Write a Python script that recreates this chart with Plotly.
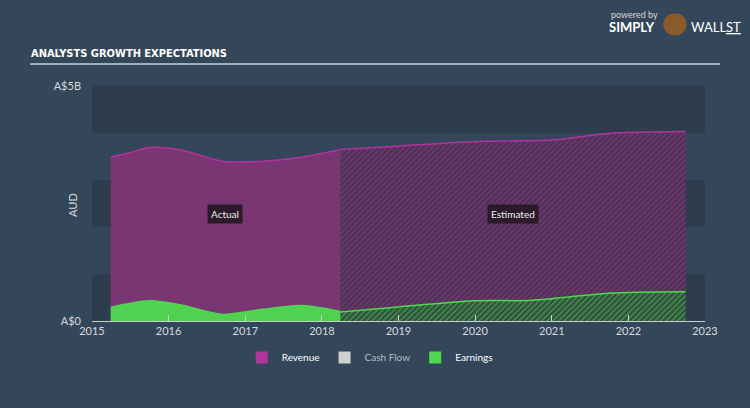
import plotly.graph_objects as go

# ---- data (A$ billions) ----
rev_act_dates = ["2015-03-31", "2015-06-30", "2015-09-30", "2016-03-01", "2016-09-12", "2017-03-25", "2017-09-30", "2018-03-31"]
rev_act_vals = [3.49, 3.58, 3.69, 3.64, 3.40, 3.40, 3.49, 3.65]
rev_est_dates = ["2018-03-31", "2018-12-31", "2019-12-31", "2020-12-31", "2021-09-30", "2022-09-30"]
rev_est_vals = [3.65, 3.72, 3.82, 3.85, 3.99, 4.03]

earn_act_dates = ["2015-03-31", "2015-09-30", "2016-03-01", "2016-09-12", "2017-03-25", "2017-09-30", "2018-03-31"]
earn_act_vals = [0.29, 0.43, 0.34, 0.14, 0.25, 0.33, 0.20]
earn_est_dates = ["2018-03-31", "2018-12-31", "2019-12-31", "2020-09-30", "2021-09-30", "2022-09-30"]
earn_est_vals = [0.19, 0.30, 0.43, 0.44, 0.59, 0.62]

legend_names = ["Revenue", "Cash Flow", "Earnings"]
year_ticks = [str(y) for y in range(2015, 2024)]
B = 1e9

BG = "#344659"
BAND = "#2e3d4d"
REV_LINE = "#b0349e"
REV_FILL = "#7a3673"
EARN = "#4fd84f"

fig = go.Figure()

fig.add_trace(go.Scatter(x=rev_act_dates, y=[v * B for v in rev_act_vals], mode="lines",
                         line=dict(color=REV_LINE, width=1.5, shape="spline", smoothing=0.8),
                         fill="tozeroy", fillcolor=REV_FILL, showlegend=False, hoverinfo="skip"))
fig.add_trace(go.Scatter(x=rev_est_dates, y=[v * B for v in rev_est_vals], mode="lines",
                         line=dict(color=REV_LINE, width=1.5, shape="spline", smoothing=0.8),
                         fill="tozeroy",
                         fillpattern=dict(shape="/", fgcolor="#923c88", bgcolor="#4a3152", size=4, solidity=0.5),
                         showlegend=False, hoverinfo="skip"))
fig.add_trace(go.Scatter(x=earn_act_dates, y=[v * B for v in earn_act_vals], mode="lines",
                         line=dict(color=EARN, width=1.5, shape="spline", smoothing=0.8),
                         fill="tozeroy", fillcolor="#50d250", showlegend=False, hoverinfo="skip"))
fig.add_trace(go.Scatter(x=earn_est_dates, y=[v * B for v in earn_est_vals], mode="lines",
                         line=dict(color=EARN, width=1.5, shape="spline", smoothing=0.8),
                         fill="tozeroy",
                         fillpattern=dict(shape="/", fgcolor="#4fc84f", bgcolor="#2f4a3e", size=4, solidity=0.5),
                         showlegend=False, hoverinfo="skip"))

leg_colors = [REV_LINE, "#d0d0d0", EARN]
for name, col in zip(legend_names, leg_colors):
    label = f"<span style='color:#b8bec4'>{name}</span>" if name == "Cash Flow" else name
    fig.add_trace(go.Bar(x=[None], y=[None], name=label, marker=dict(color=col, line=dict(width=0))))

# bands
shapes = []
for lo in (0, 2, 4):
    shapes.append(dict(type="rect", xref="paper", yref="y", x0=0, x1=1, y0=lo * B, y1=(lo + 1) * B,
                       fillcolor=BAND, line=dict(width=0), layer="below"))
# title underline
shapes.append(dict(type="line", xref="paper", yref="paper", x0=-0.101, x1=1.0245, y0=1.094, y1=1.094,
                   line=dict(color="#c9ced4", width=1.5)))
# logo circle
shapes.append(dict(type="circle", xref="paper", yref="paper", x0=0.932, x1=0.97, y0=1.215, y1=1.31,
                   fillcolor="#8b5a2b", line=dict(width=0)))

annotations = [
    dict(text="Actual", xref="paper", yref="paper", x=0.217, y=0.455, xanchor="center", yanchor="middle",
         showarrow=False, font=dict(color="#eeeeee", size=10, family="Lato"), bgcolor="#2a1a2a", borderpad=3),
    dict(text="Estimated", xref="paper", yref="paper", x=0.686, y=0.455, xanchor="center", yanchor="middle",
         showarrow=False, font=dict(color="#eeeeee", size=10, family="Lato"), bgcolor="#2a1a2a", borderpad=3),
    dict(text="ANALYSTS GROWTH EXPECTATIONS", xref="paper", yref="paper", x=-0.102, y=1.14,
         xanchor="left", yanchor="middle", showarrow=False,
         font=dict(color="#ffffff", size=11, family="DejaVu Sans Condensed", weight="bold")),
    dict(text="AUD", xref="paper", yref="paper", x=-0.031, y=0.494, xanchor="center", yanchor="middle",
         textangle=-90, showarrow=False, font=dict(color="#d6d9dc", size=11, family="Lato")),
    dict(text="powered by", xref="paper", yref="paper", x=0.843, y=1.306, xanchor="left", yanchor="middle",
         showarrow=False, font=dict(color="#d8d8d8", size=9, family="Lato")),
    dict(text="<b>SIMPLY</b>", xref="paper", yref="paper", x=0.84, y=1.251, xanchor="left", yanchor="middle",
         showarrow=False, font=dict(color="#ffffff", size=13, family="Lato")),
    dict(text="WALL<u>ST</u>", xref="paper", yref="paper", x=0.974, y=1.251, xanchor="left", yanchor="middle",
         showarrow=False, font=dict(color="#ffffff", size=13, family="Lato")),
]

fig.update_layout(
    width=750, height=408,
    margin=dict(l=92, r=45, t=86, b=87),
    paper_bgcolor=BG, plot_bgcolor=BG,
    shapes=shapes, annotations=annotations,
    showlegend=True,
    legend=dict(orientation="h", x=0.453, y=-0.155, xanchor="center", yanchor="middle",
                font=dict(color="#ffffff", size=10, family="Lato"), itemwidth=30,
                bgcolor="rgba(0,0,0,0)"),
    xaxis=dict(type="date", range=["2015-01-01", "2023-01-01"],
               tickvals=[f"{y}-01-01" for y in year_ticks], ticktext=year_ticks,
               showgrid=False, zeroline=False, showline=True, linecolor="#c9ced4", linewidth=1,
               ticks="inside", ticklen=6, tickcolor="#c9ced4",
               tickfont=dict(color="#d6d9dc", size=11, family="Lato")),
    yaxis=dict(range=[0, 5 * B], tickvals=[0, 5 * B], ticktext=["A$0", "A$5B"],
               showgrid=False, zeroline=False, showline=False, ticklabelstandoff=10,
               tickfont=dict(color="#d6d9dc", size=11, family="Lato")),
    hovermode=False,
)

fig.write_html("out.html")
